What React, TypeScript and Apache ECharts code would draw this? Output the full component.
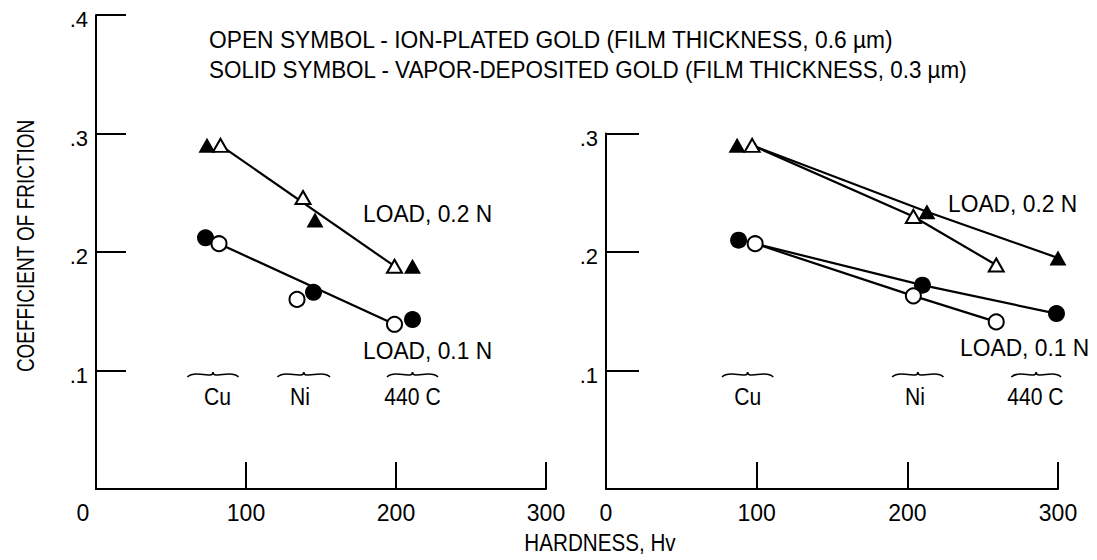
import React, { useEffect, useRef } from "react";
import * as echarts from "echarts";

// ---------- data ----------
const xTickStep = 100;
const yTickStep = 0.1;

// Left panel (ion-plated = open, vapor-deposited = solid)
const leftIonHv02 = [83, 138, 199];
const leftIonCof02 = [0.29, 0.246, 0.188];
const leftVapHv02 = [74, 146, 211];
const leftVapCof02 = [0.29, 0.227, 0.188];
const leftIonHv01 = [82, 134, 199];
const leftIonCof01 = [0.207, 0.16, 0.139];
const leftVapHv01 = [73, 145, 211];
const leftVapCof01 = [0.212, 0.166, 0.143];
// left panel straight lines
const leftLineHv02 = [83, 199];
const leftLineCof02 = [0.29, 0.188];
const leftLineHv01 = [82, 199];
const leftLineCof01 = [0.207, 0.139];

// Right panel
const rightIonHv02 = [97, 204, 259];
const rightIonCof02 = [0.29, 0.23, 0.189];
const rightVapHv02 = [87, 213, 300];
const rightVapCof02 = [0.29, 0.234, 0.195];
const rightIonHv01 = [99, 204, 259];
const rightIonCof01 = [0.207, 0.163, 0.141];
const rightVapHv01 = [88, 210, 299];
const rightVapCof01 = [0.21, 0.172, 0.148];

// material annotations
const materials = ["Cu", "Ni", "440 C"];
const leftMaterialHv = [81, 136, 211];
const leftBraceFrom = [61, 121, 194];
const leftBraceTo = [95, 156, 228];
const rightMaterialHv = [94, 205, 285];
const rightBraceFrom = [77, 190, 269];
const rightBraceTo = [111, 224, 302];
const materialLabelCof = 0.078;
const braceCof = 0.097;

// load annotations
const loadLabels = ["LOAD, 0.2 N", "LOAD, 0.1 N"];
const leftLoadHv = [178, 178];
const leftLoadCof = [0.232, 0.117];
const rightLoadHv = [227, 235];
const rightLoadCof = [0.241, 0.119];

const titleLines = [
  "OPEN SYMBOL - ION-PLATED GOLD (FILM THICKNESS, 0.6 µm)",
  "SOLID SYMBOL - VAPOR-DEPOSITED GOLD (FILM THICKNESS, 0.3 µm)",
];
const yAxisTitle = "COEFFICIENT OF FRICTION";
const xAxisTitle = "HARDNESS, Hv";

// ---------- helpers ----------
const FONT = "'Liberation Sans', Arial, sans-serif";

const pairs = (xs: number[], ys: number[]) => xs.map((x, i) => [x, ys[i]]);

const markerSeries = (
  gridIdx: number,
  xs: number[],
  ys: number[],
  shape: "circle" | "triangle",
  open: boolean
) => ({
  type: "scatter",
  xAxisIndex: gridIdx,
  yAxisIndex: gridIdx,
  symbol: shape,
  symbolSize: open
    ? shape === "circle"
      ? 15
      : [15, 13]
    : shape === "circle"
    ? 17
    : [17, 15],
  itemStyle: open
    ? { color: "#fff", borderColor: "#000", borderWidth: 2, opacity: 1 }
    : { color: "#000", borderColor: "#000", borderWidth: 0, opacity: 1 },
  z: open ? 4 : 3,
  silent: true,
  data: pairs(xs, ys),
});

const lineSeries = (gridIdx: number, data: number[][]) => ({
  type: "line",
  xAxisIndex: gridIdx,
  yAxisIndex: gridIdx,
  symbol: "none",
  lineStyle: { color: "#000", width: 2.2, opacity: 1 },
  z: 2,
  silent: true,
  data,
});

const braceSeries = (gridIdx: number, from: number[], to: number[]) => ({
  type: "custom",
  xAxisIndex: gridIdx,
  yAxisIndex: gridIdx,
  silent: true,
  encode: { x: [0, 1], y: 2 },
  data: from.map((f, i) => [f, to[i], braceCof]),
  renderItem: (params: any, api: any) => {
    const a = api.coord([api.value(0), api.value(2)]);
    const b = api.coord([api.value(1), api.value(2)]);
    const x1 = a[0];
    const x2 = b[0];
    const y = a[1];
    const xm = (x1 + x2) / 2;
    const d =
      `M${x1},${y + 3} C${x1 + 2},${y + 1} ${x1 + 4},${y} ${x1 + 9},${y} ` +
      `C${x1 + 14},${y} ${xm - 5},${y + 1} ${xm - 3},${y + 1} ` +
      `C${xm - 1},${y + 1} ${xm},${y} ${xm},${y - 2} ` +
      `C${xm},${y} ${xm + 1},${y + 1} ${xm + 3},${y + 1} ` +
      `C${xm + 5},${y + 1} ${x2 - 14},${y} ${x2 - 9},${y} ` +
      `C${x2 - 4},${y} ${x2 - 2},${y + 1} ${x2},${y + 3}`;
    return {
      type: "path",
      shape: { pathData: d },
      style: { fill: "none", stroke: "#000", lineWidth: 1.6 },
    };
  },
});

const textSeries = (
  gridIdx: number,
  names: string[],
  xs: number[],
  ys: number[],
  align: "center" | "left",
  fontSize: number,
  scaleX: number
) => ({
  type: "custom",
  xAxisIndex: gridIdx,
  yAxisIndex: gridIdx,
  silent: true,
  z: 5,
  encode: { x: 0, y: 1 },
  data: names.map((n, i) => ({ name: n, value: [xs[i], ys[i]] })),
  renderItem: (params: any, api: any) => {
    const p = api.coord([api.value(0), api.value(1)]);
    return {
      type: "text",
      x: p[0],
      y: p[1],
      scaleX,
      style: {
        text: names[params.dataIndex],
        fontSize,
        fontFamily: FONT,
        fill: "#000",
        align,
        verticalAlign: "middle",
      },
    };
  },
});

const axisCommon = {
  axisLine: { show: true, onZero: false, lineStyle: { color: "#000", width: 2 } },
  splitLine: { show: false },
};

const fmtY = (v: number) => (v === 0 ? "" : "{a|" + v.toFixed(1).replace(/^0/, "") + "}");

export default function App() {
  const ref = useRef<HTMLDivElement>(null);

  useEffect(() => {
    if (!ref.current) return;
    const chart = echarts.init(ref.current, null, { renderer: "svg" });

    const option: any = {
      animation: false,
      backgroundColor: "#fff",
      grid: [
        { left: 96, top: 15, width: 450, height: 474 },
        { left: 606, top: 133.5, width: 452, height: 355.5 },
      ],
      xAxis: [0, 1].map((g) => ({
        type: "value",
        gridIndex: g,
        min: 0,
        max: 300,
        interval: xTickStep,
        ...axisCommon,
        axisTick: { show: true, inside: true, length: 27, lineStyle: { color: "#000", width: 2 } },
        axisLabel: {
          margin: 12,
          color: "#000",
          fontSize: 23,
          fontFamily: FONT,
          formatter: (v: number) => (g === 0 && v === 0 ? "{z|0}" : String(v)),
          rich: { z: { padding: [0, 26, 0, 0], fontSize: 23, fontFamily: FONT, color: "#000" } },
        },
      })),
      yAxis: [0, 1].map((g) => ({
        type: "value",
        gridIndex: g,
        min: 0,
        max: g === 0 ? 0.4 : 0.3,
        interval: yTickStep,
        ...axisCommon,
        axisTick: {
          show: true,
          inside: true,
          length: g === 0 ? 30 : 33,
          lineStyle: { color: "#000", width: 2 },
        },
        axisLabel: {
          margin: 8,
          color: "#000",
          fontSize: 22,
          fontFamily: FONT,
          formatter: fmtY,
          rich: { a: { padding: [9, 0, 0, 0], fontSize: 22, fontFamily: FONT, color: "#000" } },
        },
      })),
      series: [
        // left panel lines
        lineSeries(0, pairs(leftLineHv02, leftLineCof02)),
        lineSeries(0, pairs(leftLineHv01, leftLineCof01)),
        // right panel lines (both start from the common Cu point)
        lineSeries(1, pairs(rightIonHv02, rightIonCof02)),
        lineSeries(1, [[rightIonHv02[0], rightIonCof02[0]], ...pairs(rightVapHv02, rightVapCof02).slice(1)]),
        lineSeries(1, pairs(rightIonHv01, rightIonCof01)),
        lineSeries(1, [[rightIonHv01[0], rightIonCof01[0]], ...pairs(rightVapHv01, rightVapCof01).slice(1)]),
        // markers left
        markerSeries(0, leftVapHv02, leftVapCof02, "triangle", false),
        markerSeries(0, leftIonHv02, leftIonCof02, "triangle", true),
        markerSeries(0, leftVapHv01, leftVapCof01, "circle", false),
        markerSeries(0, leftIonHv01, leftIonCof01, "circle", true),
        // markers right
        markerSeries(1, rightVapHv02, rightVapCof02, "triangle", false),
        markerSeries(1, rightIonHv02, rightIonCof02, "triangle", true),
        markerSeries(1, rightVapHv01, rightVapCof01, "circle", false),
        markerSeries(1, rightIonHv01, rightIonCof01, "circle", true),
        // braces
        braceSeries(0, leftBraceFrom, leftBraceTo),
        braceSeries(1, rightBraceFrom, rightBraceTo),
        // material labels
        textSeries(0, materials, leftMaterialHv, materials.map(() => materialLabelCof), "center", 24, 0.88),
        textSeries(1, materials, rightMaterialHv, materials.map(() => materialLabelCof), "center", 24, 0.88),
        // load labels
        textSeries(0, loadLabels, leftLoadHv, leftLoadCof, "left", 24, 0.95),
        textSeries(1, loadLabels, rightLoadHv, rightLoadCof, "left", 24, 0.95),
      ],
      graphic: [
        {
          type: "text",
          x: 209,
          y: 40,
          scaleX: 0.95,
          style: { text: titleLines[0], fontSize: 24, fontFamily: FONT, fill: "#000", align: "left", verticalAlign: "middle" },
        },
        {
          type: "text",
          x: 209,
          y: 70,
          scaleX: 0.935,
          style: { text: titleLines[1], fontSize: 24, fontFamily: FONT, fill: "#000", align: "left", verticalAlign: "middle" },
        },
        {
          type: "text",
          x: 26,
          y: 246,
          rotation: Math.PI / 2,
          scaleX: 0.79,
          style: {
            text: yAxisTitle,
            fontSize: 24,
            fontFamily: FONT,
            fill: "#000",
            align: "center",
            verticalAlign: "middle",
          },
        },
        {
          type: "text",
          x: 600,
          y: 543,
          scaleX: 0.86,
          style: {
            text: xAxisTitle,
            fontSize: 24,
            fontFamily: FONT,
            fill: "#000",
            align: "center",
            verticalAlign: "middle",
          },
        },
      ],
    };

    chart.setOption(option);
    return () => chart.dispose();
  }, []);

  return (
    <div
      ref={ref}
      style={{ position: "absolute", left: 0, top: 0, width: 1097, height: 560, background: "#fff" }}
    />
  );
}
